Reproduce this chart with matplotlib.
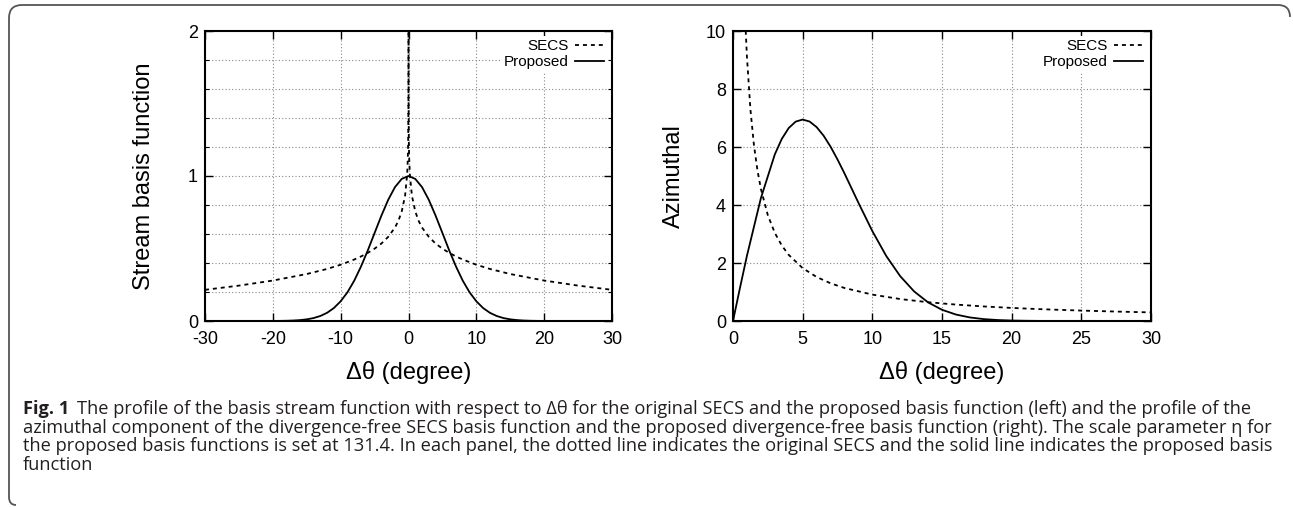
import matplotlib
matplotlib.use('Agg')
import matplotlib.pyplot as plt
from matplotlib.path import Path
from matplotlib.patches import PathPatch
from matplotlib.ticker import MultipleLocator

prop_theta = list(range(0, 31))
prop_stream = [1.000, 0.980, 0.923, 0.835, 0.726, 0.607, 0.487, 0.376, 0.278, 0.198,
               0.136, 0.0894, 0.0566, 0.0345, 0.0202, 0.0114, 0.0062, 0.0032, 0.0016, 0.0008,
               0.0004, 0.0002, 0.0001, 0, 0, 0, 0, 0, 0, 0, 0]
secs_theta = [30, 25, 20, 15, 12, 10, 8, 7, 6, 5, 4, 3, 2, 1.5, 1, 0.5, 0.2, 0.1, 0.05, 0.01, 0.001, 0.0001]
secs_stream = [0.215, 0.244, 0.279, 0.324, 0.359, 0.388, 0.424, 0.445, 0.470, 0.499, 0.534, 0.580,
               0.644, 0.690, 0.755, 0.865, 1.011, 1.121, 1.231, 1.488, 1.854, 2.221]

# right panel: azimuthal component
prop_az_theta = [0, 0.5, 1, 2, 3, 3.5, 4, 4.5, 5, 5.5, 6, 6.5, 7, 7.5, 8, 9, 10, 11, 12, 13, 14, 15,
                 16, 17, 18, 19, 20, 21, 22, 25, 30]
prop_az = [0, 1.141, 2.248, 4.233, 5.744, 6.278, 6.655, 6.876, 6.946, 6.878, 6.686, 6.392, 6.013,
           5.570, 5.091, 4.078, 3.101, 2.241, 1.546, 1.020, 0.642, 0.387, 0.223, 0.123, 0.065,
           0.033, 0.016, 0.008, 0.003, 0, 0]
secs_az_theta = [0.8, 0.9, 1, 1.25, 1.5, 1.75, 2, 2.5, 3, 3.5, 4, 5, 6, 7, 8, 10, 12, 14, 16, 18,
                 20, 22, 25, 28, 30]
secs_az = [11.40, 10.13, 9.119, 7.295, 6.079, 5.210, 4.559, 3.647, 3.039, 2.605, 2.279, 1.823,
           1.518, 1.301, 1.138, 0.910, 0.757, 0.648, 0.566, 0.502, 0.451, 0.409, 0.359, 0.319, 0.297]

left_xticks = [-30, -20, -10, 0, 10, 20, 30]
left_yticks = [0, 1, 2]
right_xticks = [0, 5, 10, 15, 20, 25, 30]
right_yticks = [0, 2, 4, 6, 8, 10]

caption_lines = [
    "The profile of the basis stream function with respect to Δθ for the original SECS and the proposed basis function (left) and the profile of the",
    "azimuthal component of the divergence-free SECS basis function and the proposed divergence-free basis function (right). The scale parameter η for",
    "the proposed basis functions is set at 131.4. In each panel, the dotted line indicates the original SECS and the solid line indicates the proposed basis",
    "function",
]

plt.rcParams['font.family'] = ['Liberation Sans', 'DejaVu Sans']

W, H = 1293, 507
fig = plt.figure(figsize=(W / 100, H / 100), dpi=100)


def fx(x):
    return x / W


def fy(y):
    return 1 - y / H


dots = (0, (2.2, 2.2))
gridstyle = (0, (1, 2))


def style(ax):
    for s in ax.spines.values():
        s.set_linewidth(1.5)
    ax.tick_params(which='both', direction='in', top=True, right=True, labelsize=13)
    ax.tick_params(axis='x', pad=7)
    ax.tick_params(axis='y', pad=5)
    ax.tick_params(which='major', length=6, width=1)
    ax.tick_params(which='minor', length=3, width=0.8)
    ax.grid(True, which='both', color='#888888', linestyle=gridstyle, linewidth=0.8)
    ax.set_axisbelow(True)


# left panel
ax1 = fig.add_axes([fx(205), fy(321), fx(612) - fx(205), fy(31) - fy(321)])
sx = [-t for t in secs_theta] + secs_theta[::-1]
sy = secs_stream + secs_stream[::-1]
px = [-t for t in prop_theta[::-1]] + prop_theta[1:]
py = prop_stream[::-1] + prop_stream[1:]
ax1.plot(sx, sy, color='black', lw=1.3, linestyle=dots, label='SECS')
ax1.plot(px, py, color='black', lw=1.3, label='Proposed')
ax1.set_xlim(-30, 30)
ax1.set_ylim(0, 2)
ax1.set_xticks(left_xticks)
ax1.set_xticklabels([str(v) for v in left_xticks])
ax1.set_yticks(left_yticks)
ax1.yaxis.set_minor_locator(MultipleLocator(0.2))
style(ax1)
ax1.set_ylabel('Stream basis function', fontsize=17)
ax1.yaxis.set_label_coords((155 - 205) / 407, 0.5)
ax1.set_xlabel('Δθ (degree)', fontsize=17)
ax1.xaxis.set_label_coords(0.5, (321 - 373) / 290)
ax1.xaxis.label.set_va('center')

# right panel
ax2 = fig.add_axes([fx(733), fy(321), fx(1151) - fx(733), fy(31) - fy(321)])
ax2.plot(secs_az_theta, secs_az, color='black', lw=1.3, linestyle=dots, label='SECS')
ax2.plot(prop_az_theta, prop_az, color='black', lw=1.3, label='Proposed')
ax2.set_xlim(0, 30)
ax2.set_ylim(0, 10)
ax2.set_xticks(right_xticks)
ax2.set_yticks(right_yticks)
style(ax2)
ax2.set_ylabel('Azimuthal', fontsize=17)
ax2.yaxis.set_label_coords((685 - 733) / 418, 0.5)
ax2.set_xlabel('Δθ (degree)', fontsize=17)
ax2.xaxis.set_label_coords(0.5, (321 - 373) / 290)
ax2.xaxis.label.set_va('center')

for ax in (ax1, ax2):
    leg = ax.legend(loc='upper right', markerfirst=False, fontsize=11, handlelength=1.9,
                    handletextpad=0.4, labelspacing=0.1, borderpad=0.25, borderaxespad=0.3,
                    frameon=True, fancybox=False)
    leg.get_frame().set_facecolor('white')
    leg.get_frame().set_edgecolor('none')
    leg.get_frame().set_alpha(1)

# caption; font size chosen so that no line runs past where the figure's lines end
cap_font = ['Open Sans', 'DejaVu Sans']
cap_color = '#231f20'
line_y = [409, 428, 446, 465]
line_end = [1268, 1281, 1273, 1281]
gap = 8
fig.canvas.draw()
r = fig.canvas.get_renderer()
t0 = fig.text(fx(23), fy(line_y[0]), 'Fig. 1', family=cap_font, weight='bold', fontsize=10,
              color=cap_color, va='center', ha='left')
texts = []
for txt, y in zip(caption_lines, line_y):
    texts.append(fig.text(fx(23), fy(y), txt, family=cap_font, fontsize=10, color=cap_color,
                          va='center', ha='left'))
w0 = t0.get_window_extent(renderer=r).width
scales = []
for i, t in enumerate(texts):
    w = t.get_window_extent(renderer=r).width
    avail = line_end[i] - 23 - (w0 + gap if i == 0 else 0)
    if i == 0:
        scales.append((line_end[i] - 23 - gap) / (w + w0))
    else:
        scales.append(avail / w)
cap_size = 10 * min(scales)
t0.set_fontsize(cap_size)
for t in texts:
    t.set_fontsize(cap_size)
bb = t0.get_window_extent(renderer=r)
texts[0].set_x(fx(bb.x1 + gap))

# rounded frame (top and left edges)
pts = [(16, 505), (9, 505), (9, 497), (9, 18), (9, 5), (22, 5), (1278, 5), (1290, 5), (1290, 17)]
codes = [Path.MOVETO, Path.CURVE3, Path.CURVE3, Path.LINETO, Path.CURVE3, Path.CURVE3,
         Path.LINETO, Path.CURVE3, Path.CURVE3]
frame = Path([(fx(a), fy(b)) for a, b in pts], codes)
fig.add_artist(PathPatch(frame, fill=False, edgecolor='#555555', lw=1.3, transform=fig.transFigure))

fig.savefig('out.png', dpi=100)
